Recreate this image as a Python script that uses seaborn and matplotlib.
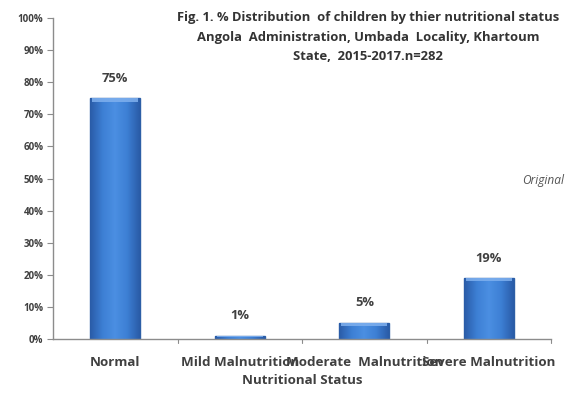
import matplotlib
matplotlib.use("Agg")
import matplotlib.pyplot as plt
import seaborn as sns
import pandas as pd
import numpy as np
from matplotlib.colors import LinearSegmentedColormap

categories = ["Normal", "Mild Malnutrition", "Moderate  Malnutrition", "Severe Malnutrition"]
percent = [75, 1, 5, 19]
value_labels = ["75%", "1%", "5%", "19%"]
y_ticks = [0, 10, 20, 30, 40, 50, 60, 70, 80, 90, 100]
title_lines = [
    "Fig. 1. % Distribution  of children by thier nutritional status",
    "Angola  Administration, Umbada  Locality, Khartoum",
    "State,  2015-2017.n=282",
]

sns.set_theme(style="white")
plt.rcParams["font.family"] = ["Open Sans", "DejaVu Sans"]

df = pd.DataFrame({"status": categories, "pct": percent})

fig = plt.figure(figsize=(5.76, 3.94), dpi=100)
ax = fig.add_axes([0.092, 0.1396, 0.865, 0.8144])

sns.barplot(data=df, x="status", y="pct", ax=ax, width=0.4,
            color="#3a78cc", edgecolor="#2d5fa6", linewidth=1.0, saturation=1)

# shaded fill: darker at the sides, lighter through the middle
shade = LinearSegmentedColormap.from_list(
    "barshade", ["#2a5ca8", "#3d7fd4", "#4b8fe2", "#3d7fd4", "#2a5ca8"])
grad = np.linspace(0, 1, 64).reshape(1, -1)
for patch in list(ax.patches):
    x0, w, h = patch.get_x(), patch.get_width(), patch.get_height()
    im = ax.imshow(grad, cmap=shade, aspect="auto", interpolation="bicubic",
                   extent=[x0, x0 + w, 0, h], zorder=patch.get_zorder() + 0.1)
    im.set_clip_path(patch)
    cap = min(h * 0.5, 1.0)
    ax.fill_between([x0 + w * 0.04, x0 + w * 0.96], h - cap, h,
                    color="#7fb0ee", alpha=0.85, linewidth=0,
                    zorder=patch.get_zorder() + 0.2)

ax.set_ylim(0, 100)
ax.set_xlim(-0.5, 3.5)
ax.set_yticks(y_ticks)
ax.set_yticklabels([f"{t}%" for t in y_ticks], fontsize=7.0, color="#404040",
                   fontweight="bold")
ax.set_xticks([])
ax.set_xlabel("")
ax.set_ylabel("")

for sp in ["top", "right"]:
    ax.spines[sp].set_visible(False)
for sp in ["left", "bottom"]:
    ax.spines[sp].set_color("#8c8c8c")
    ax.spines[sp].set_linewidth(1.0)
ax.tick_params(axis="y", which="both", left=True, length=4, width=0.8,
               color="#8c8c8c", pad=3)

# category boundary ticks below the axis
for b in [0.5, 1.5, 2.5, 3.5]:
    ax.plot([b, b], [0, -1.3], color="#8c8c8c", lw=0.8, clip_on=False)

for i, (cat, lab, v) in enumerate(zip(categories, value_labels, percent)):
    ax.text(i, v + 4.2, lab, ha="center", va="bottom", fontsize=9.3,
            fontweight="bold", color="#404040")
    ax.text(i, -7.2, cat, ha="center", va="center", fontsize=9.6,
            fontweight="bold", color="#404040")

ax.text(1.5, -12.8, "Nutritional Status", ha="center", va="center",
        fontsize=9.6, fontweight="bold", color="#404040")

for k, line in enumerate(title_lines):
    fig.text(0.639, 1 - (17 + 20 * k) / 394, line, ha="center", va="center",
             fontsize=9.4, fontweight="bold", color="#333333")

fig.text(0.980, 1 - 180 / 394, "Original", ha="right", va="center",
         fontsize=8.6, style="italic", color="#555555")

fig.savefig("out.png", dpi=100, facecolor="white")
